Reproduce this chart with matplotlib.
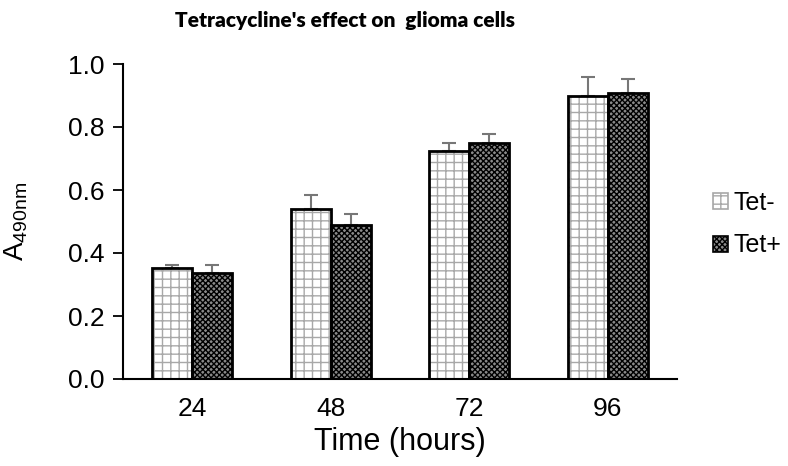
import numpy as np
import matplotlib
matplotlib.use("Agg")
import matplotlib.pyplot as plt
from matplotlib.patches import Patch

plt.rcParams['font.family'] = ['Liberation Sans', 'DejaVu Sans']
plt.rcParams['hatch.linewidth'] = 1.0

# data
hours = ['24', '48', '72', '96']
tet_minus = [0.352, 0.540, 0.725, 0.898]
tet_minus_err = [0.010, 0.044, 0.024, 0.061]
tet_plus = [0.336, 0.489, 0.748, 0.908]
tet_plus_err = [0.026, 0.035, 0.030, 0.044]

fig = plt.figure(figsize=(7.88, 4.66), dpi=100)
ax = fig.add_axes([123/788, 1 - 379/466, 554/788, 315/466])

x = np.arange(len(hours))
w = 0.288

# hatch fill (hatch colour follows the edge colour), then a black outline
ax.bar(x - w/2, tet_minus, w, facecolor='white', edgecolor='#a8a8a8',
       hatch='++', linewidth=0, zorder=2)
ax.bar(x - w/2, tet_minus, w, fill=False, edgecolor='black', linewidth=2, zorder=3)
ax.bar(x + w/2, tet_plus, w, facecolor='#8a8a8a', edgecolor='black',
       hatch='xxxxxx', linewidth=0, zorder=2)
ax.bar(x + w/2, tet_plus, w, fill=False, edgecolor='black', linewidth=2, zorder=3)

ax.errorbar(x - w/2, tet_minus, yerr=[np.zeros(4), tet_minus_err], fmt='none',
            ecolor='#777777', elinewidth=1.5, capsize=5, capthick=1.5, zorder=1)
ax.errorbar(x + w/2, tet_plus, yerr=[np.zeros(4), tet_plus_err], fmt='none',
            ecolor='#777777', elinewidth=1.5, capsize=5, capthick=1.5, zorder=1)

ax.set_xlim(-0.5, 3.5)
ax.set_ylim(0, 1.0)
ax.set_yticks(np.arange(0, 1.01, 0.2))
ax.set_yticklabels([f'{v:.1f}' for v in np.arange(0, 1.01, 0.2)])
ax.set_xticks(x)
ax.set_xticklabels(hours)
ax.tick_params(axis='y', length=7, width=1.3, labelsize=19, pad=6)
ax.tick_params(axis='x', length=0, labelsize=19, pad=13)

for s in ['top', 'right']:
    ax.spines[s].set_visible(False)
for s in ['left', 'bottom']:
    ax.spines[s].set_linewidth(1.5)

ax.set_xlabel('Time (hours)', fontsize=22, labelpad=4)
ax.set_ylabel(r'A$_{\mathregular{490nm}}$', fontsize=20)
ax.yaxis.set_label_coords(-0.168, 0.5)

fig.text(345/788, 1 - 20/466, "Tetracycline's effect on  glioma cells",
         ha='center', va='center', fontsize=15, fontweight='heavy',
         family=['Lato', 'DejaVu Sans'])

handles = [Patch(facecolor='white', edgecolor='#a8a8a8', hatch='++', linewidth=0),
           Patch(facecolor='#8a8a8a', edgecolor='black', hatch='xxxxxx', linewidth=0)]
leg = fig.legend(handles, ['Tet-', 'Tet+'], loc='center left',
                 bbox_to_anchor=(690/788, 1 - 224/466), frameon=False,
                 fontsize=18, handlelength=0.6, handleheight=0.6,
                 handletextpad=0.25, labelspacing=0.75)
for p in leg.get_patches():
    p.set_linewidth(1.2)

fig.savefig('out.png', dpi=100)
